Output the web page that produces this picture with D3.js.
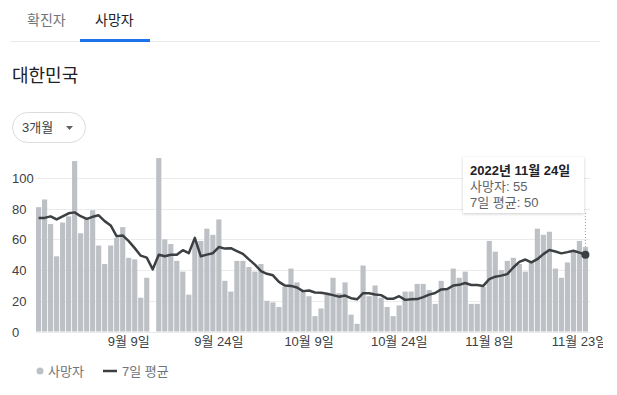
<!DOCTYPE html>
<html>
<head>
<meta charset="utf-8">
<script src="https://cdn.jsdelivr.net/npm/d3@7"></script>
<style>
  body { margin: 0; background: #fff; }
  svg { display: block; font-family: Arial, "Liberation Sans", "Noto Sans CJK KR", sans-serif; }
</style>
</head>
<body>
<svg id="chart"></svg>
<script>
var W = 617, H = 395;

// data (2022-08-25 .. 2022-11-24)
var startDay = new Date(2022, 7, 25), endDay = new Date(2022, 10, 25);
var days = d3.timeDay.range(startDay, endDay);
var deaths = [81,86,70,49,71,75,111,64,74,79,56,44,56,61,68,48,47,22,35,null,
  113,60,57,46,39,24,59,59,67,63,73,33,26,46,46,42,39,44,20,19,
  16,29,41,32,27,23,10,15,24,35,25,32,11,5,43,23,30,22,16,10,
  17,26,26,31,31,27,18,33,28,41,35,39,18,18,29,59,52,40,46,48,
  44,39,46,67,63,65,41,35,45,52,59,55];
var avg7 = [74,74,75,73,75,77,77.6,75.1,73.4,74.7,75.7,71.9,69.1,62,62.6,58.9,54.3,49.4,48.1,40.5,
  50,49,50,50,53,51,61,49,50.1,51,55,54,54.3,52.4,50.6,47,43.6,39.4,37.6,36.6,
  32.3,29.9,29.7,28.7,26.3,26.7,25.4,25.3,24.6,23.7,22.7,23.4,21.7,21,25,24.9,24.1,23.7,21.4,21.3,
  23,20.6,21,21.1,22.4,24,25.1,27.4,27.7,29.9,30.4,31.6,30.3,30.3,29.7,34.1,35.7,36.4,37.4,41.7,
  45.4,46.9,45,47.1,50.4,53.1,52.1,50.9,51.7,52.6,51.4,50];
var yTicks = [0, 20, 40, 60, 80, 100];
var xTickDays = [new Date(2022,8,9), new Date(2022,8,24), new Date(2022,9,9), new Date(2022,9,24), new Date(2022,10,8), new Date(2022,10,23)];
var tabs = ["확진자", "사망자"];
var legendLabels = ["사망자", "7일 평균"];

var barColor = "#bdc1c6";
var lineColor = "#3c4043";
var textGray = "#70757a";

var svg = d3.select("#chart").attr("width", W).attr("height", H);

// tabs
svg.append("text").attr("x", 27).attr("y", 25).attr("font-size", 14).attr("fill", textGray).text(tabs[0]);
svg.append("text").attr("x", 95).attr("y", 25).attr("font-size", 14).attr("fill", "#202124").text(tabs[1]);
svg.append("rect").attr("x", 10).attr("y", 41).attr("width", 590).attr("height", 1).attr("fill", "#e8eaed");
svg.append("rect").attr("x", 80).attr("y", 39).attr("width", 70).attr("height", 3).attr("fill", "#1a73e8");

// title
svg.append("text").attr("x", 12).attr("y", 82).attr("font-size", 18).attr("fill", "#202124").text("대한민국");

// period pill
svg.append("rect").attr("x", 12.5).attr("y", 112.5).attr("width", 73).attr("height", 30).attr("rx", 15)
  .attr("fill", "#fff").attr("stroke", "#dadce0");
svg.append("text").attr("x", 22).attr("y", 132).attr("font-size", 13).attr("fill", "#3c4043").text("3개월");
svg.append("path").attr("d", "M66,126 L73,126 L69.5,130 Z").attr("fill", "#5f6368");

// scales
var x = d3.scaleBand().domain(days.map(function(d){ return +d; })).range([36, 588]).paddingInner(0.14).paddingOuter(0);
var y = d3.scaleLinear().domain([0, 100]).range([331.5, 178]);

// grid
svg.append("g").selectAll("line").data(yTicks).join("line")
  .attr("x1", 36).attr("x2", 590)
  .attr("y1", function(d){ return Math.round(y(d)) + 0.5; })
  .attr("y2", function(d){ return Math.round(y(d)) + 0.5; })
  .attr("stroke", "#ebebeb");

// y labels
svg.append("g").selectAll("text").data(yTicks).join("text")
  .attr("x", 12).attr("y", function(d){ return y(d) + 5; })
  .attr("font-size", 13).attr("fill", "#3c4043")
  .text(function(d){ return d; });

// bars
svg.append("g").selectAll("rect").data(days.map(function(d, i){ return {d: d, v: deaths[i]}; }).filter(function(e){ return e.v != null; }))
  .join("rect")
  .attr("x", function(e){ return x(+e.d); })
  .attr("width", x.bandwidth())
  .attr("y", function(e){ return y(e.v); })
  .attr("height", function(e){ return y(0) - y(e.v); })
  .attr("fill", barColor);

// x axis (labels clipped at the right edge like the reference)
svg.append("clipPath").attr("id", "xclip").append("rect").attr("x", 0).attr("y", -2).attr("width", 603).attr("height", 30);
var xAxis = d3.axisBottom(x)
  .tickValues(xTickDays.map(function(d){ return +d; }))
  .tickSize(0).tickPadding(5)
  .tickFormat(function(t){ var d = new Date(t); return (d.getMonth()+1) + "월 " + d.getDate() + "일"; });
var gx = svg.append("g").attr("transform", "translate(0," + y(0) + ")").attr("clip-path", "url(#xclip)").call(xAxis);
gx.select(".domain").remove();
gx.selectAll("text").attr("font-size", 13).attr("fill", "#3c4043");
gx.attr("font-family", null).attr("font-size", null);

// 7-day line
var line = d3.line()
  .x(function(e){ return x(+e.d) + x.bandwidth()/2; })
  .y(function(e){ return y(e.v); });
var avgPts = days.map(function(d, i){ return {d: d, v: avg7[i]}; });
svg.append("path").datum(avgPts).attr("d", line)
  .attr("fill", "none").attr("stroke", lineColor).attr("stroke-width", 2.5).attr("stroke-linejoin", "round");

// hover marker on last day
var last = avgPts[avgPts.length - 1];
var lx = x(+last.d) + x.bandwidth()/2;
svg.append("line").attr("x1", lx).attr("x2", lx).attr("y1", 213).attr("y2", y(last.v))
  .attr("stroke", "#9aa0a6").attr("stroke-dasharray", "1,2");
svg.append("circle").attr("cx", lx).attr("cy", y(last.v)).attr("r", 4).attr("fill", lineColor);

// tooltip
var defs = svg.append("defs");
var f = defs.append("filter").attr("id", "shadow").attr("x", "-10%").attr("y", "-10%").attr("width", "130%").attr("height", "140%");
f.append("feDropShadow").attr("dx", 0).attr("dy", 1).attr("stdDeviation", 1.5).attr("flood-color", "#000").attr("flood-opacity", 0.2);
var tip = svg.append("g").attr("transform", "translate(463,157)");
tip.append("rect").attr("width", 121).attr("height", 56).attr("fill", "#fff").attr("filter", "url(#shadow)");
tip.append("text").attr("x", 7).attr("y", 18).attr("font-size", 13).attr("font-weight", "bold").attr("fill", "#202124")
  .text(last.d.getFullYear() + "년 " + (last.d.getMonth()+1) + "월 " + last.d.getDate() + "일");
tip.append("text").attr("x", 7).attr("y", 34).attr("font-size", 13).attr("fill", "#5f6368").text(legendLabels[0] + ": " + deaths[deaths.length-1]);
tip.append("text").attr("x", 7).attr("y", 50).attr("font-size", 13).attr("fill", "#5f6368").text(legendLabels[1] + ": " + Math.round(last.v));

// legend
var lg = svg.append("g").attr("transform", "translate(0,371)");
lg.append("circle").attr("cx", 40).attr("cy", 0).attr("r", 3.5).attr("fill", barColor);
lg.append("text").attr("x", 48).attr("y", 5).attr("font-size", 13).attr("fill", textGray).text(legendLabels[0]);
lg.append("line").attr("x1", 103).attr("x2", 117).attr("y1", 0).attr("y2", 0).attr("stroke", lineColor).attr("stroke-width", 2.5);
lg.append("text").attr("x", 122).attr("y", 5).attr("font-size", 13).attr("fill", textGray).text(legendLabels[1]);
</script>
</body>
</html>
